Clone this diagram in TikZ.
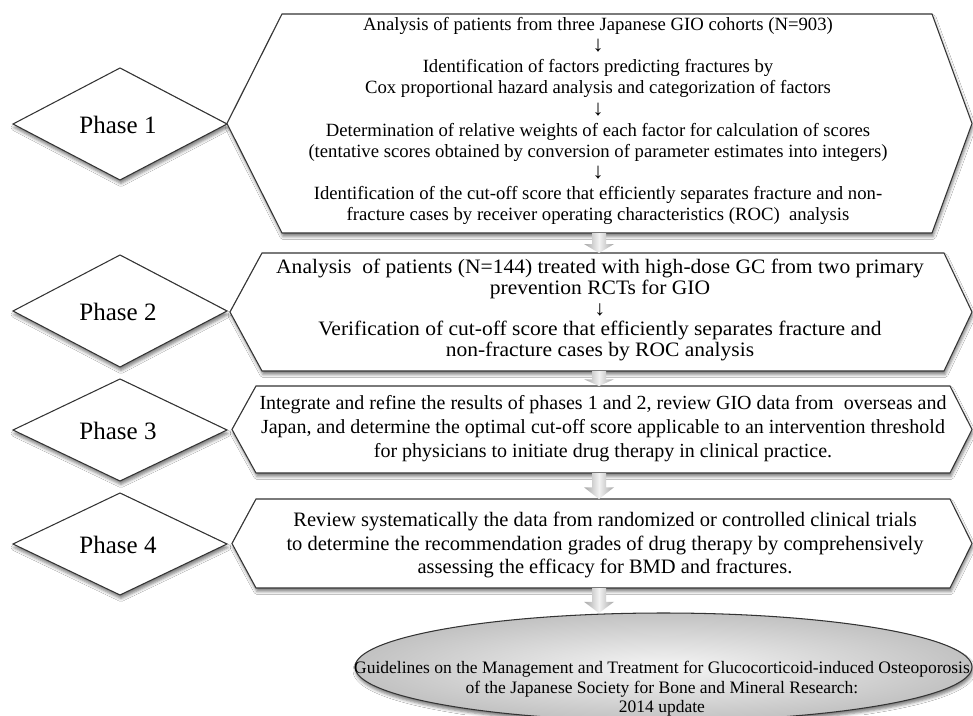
\documentclass[tikz,border=0pt]{standalone}
\usepackage{fontspec}
\setmainfont{Liberation Serif}
\newfontfamily\wideserif[FakeStretch=1.05]{Liberation Serif}
\usetikzlibrary{shadows.blur,calc,shapes.geometric}
\tikzset{
  shapeline/.style={draw=black!80, line width=1.05pt, fill=white, line join=miter},
  softshadow/.style={blur shadow={shadow xshift=1pt, shadow yshift=-3.5pt, shadow blur radius=3pt, shadow opacity=50}},
  phase/.style={inner sep=0pt, font=\fontsize{25}{30}\selectfont},
  body/.style={inner sep=0pt, align=center},
  arrowfill/.style={left color=gray!70, right color=gray!70, middle color=gray!10},
  guide/.style={draw=black!80, line width=1.05pt, ellipse, inner sep=0pt, inner color=gray!8, outer color=gray!48},
}
\newcommand\dn{{\fontsize{22}{21}\selectfont ↓}}
\newcommand\hexbox[7]{% name, xl, xtl, xtr, xr, ytop, ybot
  \path[shapeline, softshadow] (#2,{(#6+#7)/2}) -- (#3,#6) -- (#4,#6) -- (#5,{(#6+#7)/2}) -- (#4,#7) -- (#3,#7) -- cycle;
  \coordinate (#1-n) at (599,#6);
  \coordinate (#1-s) at (599,#7);
}
\newcommand\diamondbox[5]{% name, cx, cy, half height, label
  \path[shapeline, softshadow] ({#2-107},#3) -- (#2,{#3-#4}) -- ({#2+107},#3) -- (#2,{#3+#4}) -- cycle;
  \node[phase] (#1) at ({#2-2},{#3+1}) {#5};
}
\newcommand\blockarrow[2]{% from, to
  \shade[arrowfill] let \p1=(#1), \p2=(#2) in
    ({\x1-7pt},\y1) -- ({\x1+7pt},\y1) -- ({\x1+7pt},{0.45*\y1+0.55*\y2}) -- ({\x1+15pt},{0.45*\y1+0.55*\y2})
    -- (\x1,\y2) -- ({\x1-15pt},{0.45*\y1+0.55*\y2}) -- ({\x1-7pt},{0.45*\y1+0.55*\y2}) -- cycle;
}
\begin{document}
\begin{tikzpicture}[x=1pt,y=-1pt]
\useasboundingbox (0,0) rectangle (973,715);
\fill[white] (0,0) rectangle (973,715);
\clip (0,0) rectangle (973,715);

% Phase 1
\diamondbox{p1}{120}{124}{56}{Phase 1}
\hexbox{h1}{227}{282}{932}{972}{14}{233}
\node[body, font=\fontsize{18.7}{21.1}\selectfont] (t1) at (598,121) {%
Analysis of patients from three Japanese GIO cohorts (N=903)\\
\dn\\
Identification of factors predicting fractures by\\
Cox proportional hazard analysis and categorization of factors\\
\dn\\
Determination of relative weights of each factor for calculation of scores\\
(tentative scores obtained by conversion of parameter estimates into integers)\\
\dn\\
Identification of the cut-off score that efficiently separates fracture and non-\\
fracture cases by receiver operating characteristics (ROC)~~analysis};

% Phase 2
\diamondbox{p2}{120}{311}{56}{Phase 2}
\hexbox{h2}{230}{262}{944}{972}{253}{371}
\node[body, font=\wideserif\fontsize{20.5}{20.6}\selectfont] (t2) at (600,310) {%
Analysis~~of patients (N=144) treated with high-dose GC from two primary\\
prevention RCTs for GIO\\
{\fontsize{21}{20.6}\selectfont ↓}\\
Verification of cut-off score that efficiently separates fracture and\\
non-fracture cases by ROC analysis};

% Phase 3
\diamondbox{p3}{120}{430}{51}{Phase 3}
\hexbox{h3}{232}{256}{950}{972}{386}{473}
\node[body, font=\fontsize{20}{24}\selectfont] (t3) at (603,429) {%
Integrate and refine the results of phases 1 and 2, review GIO data from~~overseas and\\
Japan, and determine the optimal cut-off score applicable to an intervention threshold\\
for physicians to initiate drug therapy in clinical practice.};

% Phase 4
\diamondbox{p4}{120}{544}{51}{Phase 4}
\hexbox{h4}{232}{256}{950}{972}{499}{588}
\node[body, font=\fontsize{20.5}{23.5}\selectfont] (t4) at (605,545) {%
Review systematically the data from randomized or controlled clinical trials\\
to determine the recommendation grades of drug therapy by comprehensively\\
assessing the efficacy for BMD and fractures.};

% Guidelines ellipse
\node[guide, softshadow, minimum width=617pt, minimum height=108pt] (g) at (663.5,667) {};
\node[body, font=\fontsize{17.5}{19.5}\selectfont] (gt) at (662,689) {%
Guidelines on the Management and Treatment for Glucocorticoid-induced Osteoporosis\\
of the Japanese Society for Bone and Mineral Research:\\
2014 update};

% block arrows
\blockarrow{h1-s}{h2-n}
\blockarrow{h2-s}{h3-n}
\blockarrow{h3-s}{h4-n}
\coordinate (g-top) at (599,613);
\blockarrow{h4-s}{g-top}
\end{tikzpicture}
\end{document}
